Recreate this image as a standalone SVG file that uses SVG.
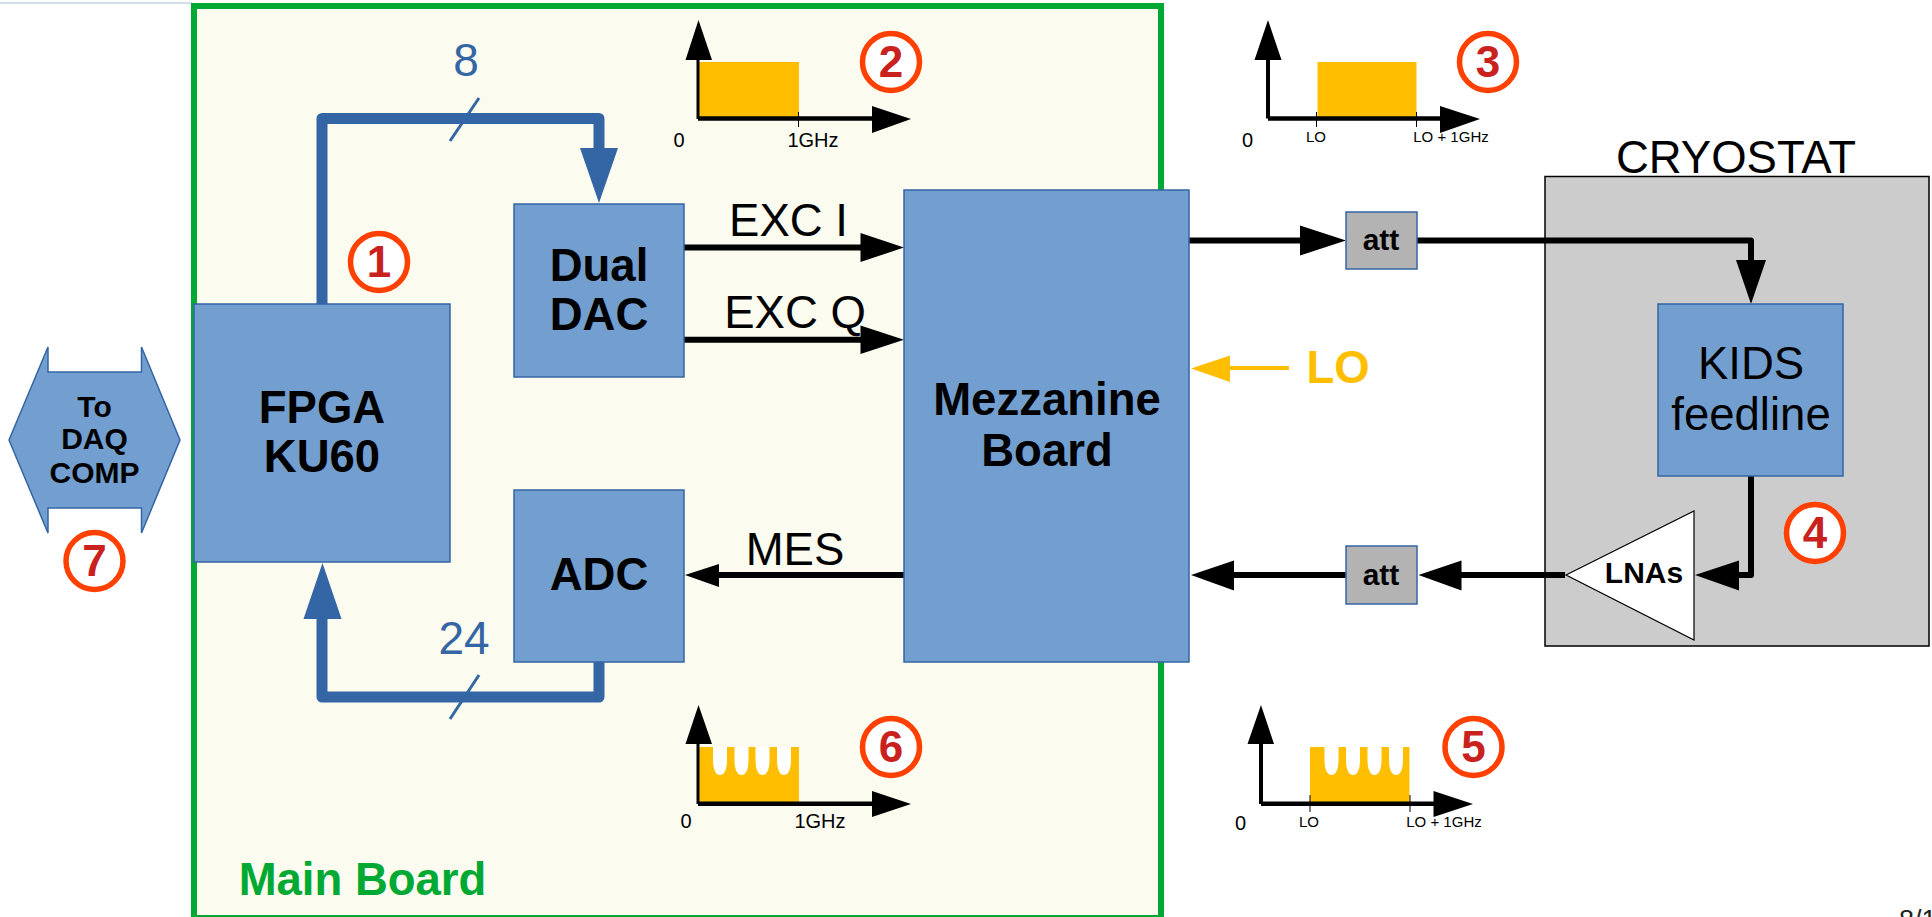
<svg xmlns="http://www.w3.org/2000/svg" width="1932" height="917" viewBox="0 0 1932 917">
<style>
text{font-family:"Liberation Sans",Arial,sans-serif;text-anchor:middle;fill:#000}
.b{font-weight:700}
.block{fill:#729fcf;stroke:#3465a4;stroke-width:1.5}
.att{fill:#b3b3b3;stroke:#3465a4;stroke-width:1.5}
.t44{font-size:45.500px}.t43{font-size:45.500px}.t30{font-size:30px}.t29{font-size:30px}
.sig{fill:none;stroke:#000;stroke-width:6;stroke-linejoin:round}
.bus{fill:none;stroke:#3465a4;stroke-width:11;stroke-linejoin:round}
.tick{stroke:#3465a4;stroke-width:3;fill:none}
.ah{fill:#000}.ahb{fill:#3465a4}
.badge{fill:#fff;stroke:#ff4000;stroke-width:5.5}
.num{font-size:44px;font-weight:700;fill:#c9211e}
.buslab{font-size:46px;fill:#3465a4}
.band{fill:#ffbf00}
.notch{fill:#fff}
.axis{stroke:#000;fill:none}
.small{font-size:15px}.mid{font-size:20px}.zero{font-size:20px}
</style>
<defs>
<path id="notches" d="M-7 0V13C-7 23-4 28 0 28C4 28 7 23 7 13V0Z"/>
</defs>
<rect width="1932" height="917" fill="#fff"/>
<line x1="0" y1="3" x2="192" y2="3" stroke="#c5d3e4" stroke-width="1.5"/>
<g id="main-board">
<rect x="194" y="6" width="967" height="912" fill="#fbfbef" stroke="#00a933" stroke-width="6"/>
<text class="b t44" x="362.500" y="895" style="fill:#00a933">Main Board</text>
</g>
<g id="cryostat">
<rect x="1545" y="176.500" width="384" height="469.500" fill="#ccc" stroke="#000" stroke-width="1.500"/>
<text class="t43" x="1736" y="173">CRYOSTAT</text>
</g>
<g id="connectors">
<path class="bus" d="M322 304V118.500H599V150"/>
<path class="ahb" d="M580 148H618L599 203Z"/>
<path class="tick" d="M479 98L450 141"/>
<path class="bus" d="M599 662V697H322V617"/>
<path class="ahb" d="M303.500 619H341.500L322.500 563Z"/>
<path class="tick" d="M479 675L450 719"/>
<path class="sig" d="M684 247.500H865"/><path class="ah" d="M860.500 233L904 247.500L860.500 262Z"/>
<path class="sig" d="M684 339.700H865"/><path class="ah" d="M860.500 325.500L904 339.700L860.500 354Z"/>
<path class="sig" d="M904 575H715"/><path class="ah" d="M719 564L685 575L719 587Z"/>
<path class="sig" d="M1189 240.500H1305"/><path class="ah" d="M1300 225.500L1346 240.500L1300 255.500Z"/>
<path class="sig" d="M1417 240.500H1751V265"/><path class="ah" d="M1736 260H1766L1751 304Z"/>
<path class="sig" d="M1751 476V575H1735"/><path class="ah" d="M1739 560.500L1695 575L1739 590.500Z"/>
<path class="sig" d="M1565 575H1455"/><path class="ah" d="M1461.500 560.500L1418.500 575L1461.500 590.500Z"/>
<path class="sig" d="M1346 575H1230"/><path class="ah" d="M1234 560.500L1191 575L1234 590.500Z"/>
<path d="M1289 368H1225" fill="none" stroke="#ffbf00" stroke-width="4"/>
<path d="M1230 355.500L1191 368.500L1230 382Z" fill="#ffbf00"/>
</g>
<g id="fpga"><rect class="block" x="194" y="304" width="256" height="258"/><text class="b t44" x="322" y="423">FPGA</text><text class="b t44" x="322" y="472">KU60</text></g>
<g id="dac"><rect class="block" x="514" y="204" width="170" height="173"/><text class="b t44" x="599" y="281">Dual</text><text class="b t44" x="599" y="330">DAC</text></g>
<g id="adc"><rect class="block" x="514" y="490" width="170" height="172"/><text class="b t44" x="599" y="590">ADC</text></g>
<g id="mezzanine"><rect class="block" x="904" y="190" width="285" height="472"/><text class="b t44" x="1047" y="415">Mezzanine</text><text class="b t44" x="1047" y="466">Board</text></g>
<g id="att-top"><rect class="att" x="1346" y="212" width="71" height="57"/><text class="b t30" x="1381" y="250">att</text></g>
<g id="att-bottom"><rect class="att" x="1346" y="546" width="71" height="58"/><text class="b t30" x="1381" y="585">att</text></g>
<g id="kids"><rect class="block" x="1658" y="304" width="185" height="172"/><text class="t43" x="1751" y="379">KIDS</text><text class="t43" x="1751" y="430">feedline</text></g>
<g id="lnas"><path d="M1566 575L1694 511V640Z" fill="#fff" stroke="#000" stroke-width="1.200"/><text class="b t29" x="1644" y="583">LNAs</text></g>
<g id="daq"><path class="block" d="M9 440L48 347V372H141.500V347L180 440L141.500 533V508H48V533Z"/><text class="b t29" x="94.500" y="417">To</text><text class="b t29" x="94.500" y="449">DAQ</text><text class="b t29" x="94.500" y="483">COMP</text></g>
<text class="buslab" x="466" y="76">8</text>
<text class="buslab" x="464" y="654">24</text>
<text class="t43" x="788.500" y="236">EXC I</text>
<text class="t43" x="795" y="328">EXC Q</text>
<text class="t43" x="795" y="565">MES</text>
<text class="b t43" x="1338" y="383" style="fill:#ffbf00">LO</text>
<text x="1899" y="929" style="font-size:27px;text-anchor:start;fill:#222">8/1</text>
<g id="chart-2">
<rect class="band" x="699" y="62" width="100" height="56.500"/>
<path class="axis" stroke-width="3" d="M698 58V119"/><path class="ah" d="M698.500 20L712 60H685.500Z"/>
<path class="axis" stroke-width="4.500" d="M698 118.500H875"/><path class="ah" d="M872 106L911 119L872 133Z"/>
<path class="axis" d="M798.500 112V127"/>
<text class="zero" x="679" y="147">0</text><text class="mid" x="813" y="147">1GHz</text>
</g>
<g id="chart-3">
<rect class="band" x="1317.500" y="62" width="99" height="56.500"/>
<path class="axis" stroke-width="4" d="M1268 58V118.500"/><path class="ah" d="M1268 20L1281.500 60H1254.500Z"/>
<path class="axis" stroke-width="4.500" d="M1268 118.500H1445"/><path class="ah" d="M1440 106L1480 119L1440 133Z"/>
<path class="axis" d="M1316.500 112V127M1416.500 112V127"/>
<text class="zero" x="1247.500" y="147">0</text><text class="small" x="1316" y="142">LO</text><text class="small" x="1451" y="142">LO + 1GHz</text>
</g>
<g id="chart-6">
<rect class="band" x="699" y="747" width="100" height="56"/>
<use href="#notches" x="720" y="747" class="notch"/><use href="#notches" x="741.500" y="747" class="notch"/><use href="#notches" x="762.500" y="747" class="notch"/><use href="#notches" x="784" y="747" class="notch"/>
<path class="axis" stroke-width="3" d="M698 740V804"/><path class="ah" d="M698.500 705L712 744H685.500Z"/>
<path class="axis" stroke-width="4.500" d="M698 803.700H875"/><path class="ah" d="M872 791L911 804L872 817Z"/>
<text class="zero" x="686" y="828">0</text><text class="mid" x="820" y="828">1GHz</text>
</g>
<g id="chart-5">
<rect class="band" x="1310" y="747" width="99.500" height="56"/>
<use href="#notches" x="1331.500" y="747" class="notch"/><use href="#notches" x="1353" y="747" class="notch"/><use href="#notches" x="1374.500" y="747" class="notch"/><use href="#notches" x="1396" y="747" class="notch"/>
<path class="axis" stroke-width="4" d="M1261 740V804"/><path class="ah" d="M1261 705L1274 744H1247.500Z"/>
<path class="axis" stroke-width="4.500" d="M1261 803.700H1438"/><path class="ah" d="M1433.500 791L1473 804L1433.500 817Z"/>
<path class="axis" d="M1310 795V812M1410 795V812"/>
<text class="zero" x="1240.500" y="830">0</text><text class="small" x="1309" y="827">LO</text><text class="small" x="1444" y="827">LO + 1GHz</text>
</g>
<g id="badge-1"><circle class="badge" cx="379" cy="262" r="28.500"/><text class="num" x="379" y="277">1</text></g>
<g id="badge-2"><circle class="badge" cx="891" cy="62" r="28.500"/><text class="num" x="891" y="77">2</text></g>
<g id="badge-3"><circle class="badge" cx="1488" cy="62" r="28.500"/><text class="num" x="1488" y="77">3</text></g>
<g id="badge-4"><circle class="badge" cx="1815" cy="533" r="28.500"/><text class="num" x="1815" y="548">4</text></g>
<g id="badge-5"><circle class="badge" cx="1473.500" cy="747" r="28.500"/><text class="num" x="1473.500" y="762">5</text></g>
<g id="badge-6"><circle class="badge" cx="891" cy="747" r="28.500"/><text class="num" x="891" y="762">6</text></g>
<g id="badge-7"><circle class="badge" cx="94.500" cy="561" r="28.500"/><text class="num" x="94.500" y="576">7</text></g>
</svg>
